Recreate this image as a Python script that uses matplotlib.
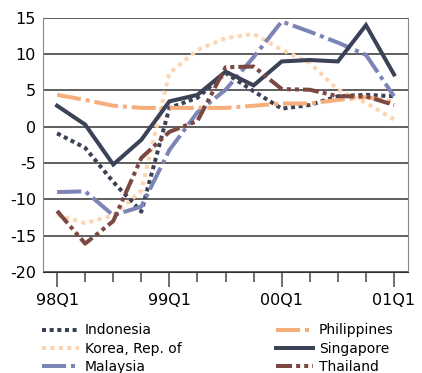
import numpy as np
import matplotlib.pyplot as plt
import matplotlib as mpl

mpl.rc('font', family='DejaVu Sans', size=11.5)
mpl.rc('axes', unicode_minus=False)

quarters = ['98Q1', '98Q2', '98Q3', '98Q4', '99Q1', '99Q2', '99Q3', '99Q4',
            '00Q1', '00Q2', '00Q3', '00Q4', '01Q1']
indonesia   = [-0.9, -2.9, -7.6, -11.7, 2.6, 4.0, 7.4, 4.9, 2.5, 3.0, 4.2, 4.4, 4.2]
korea       = [-12.1, -13.3, -12.2, -8.8, 7.4, 10.6, 12.2, 12.8, 10.6, 8.8, 5.1, 3.3, 1.0]
malaysia    = [-9.0, -8.9, -12.2, -11.0, -3.2, 2.0, 5.1, 9.6, 14.5, 13.1, 11.6, 9.9, 4.2]
philippines = [4.4, 3.7, 2.9, 2.6, 2.6, 2.6, 2.6, 2.9, 3.2, 3.2, 3.7, 4.1, 3.4]
singapore   = [2.9, 0.3, -5.2, -1.8, 3.5, 4.4, 7.6, 5.7, 9.0, 9.2, 9.0, 14.0, 7.2]
thailand    = [-11.6, -16.1, -13.0, -4.3, -0.7, 0.8, 8.2, 8.3, 5.2, 5.1, 4.2, 4.2, 3.0]

x = np.arange(len(quarters))

fig = plt.figure(figsize=(4.22, 3.73), dpi=100)
ax = fig.add_axes([0.102, 0.271, 0.865, 0.681])

lw = 2.9
series = [
    (indonesia,   'Indonesia',         '#3b4256', (0, (1, 0.9))),
    (korea,       'Korea, Rep. of',    '#fdd5b1', (0, (1, 1.1))),
    (malaysia,    'Malaysia',          '#7d84b6', (0, (6, 1.2, 1, 1.2))),
    (philippines, 'Philippines',       '#f6ae7c', (0, (6, 1.2, 1, 1.2))),
    (singapore,   'Singapore',         '#3b4256', '-'),
    (thailand,    'Thailand',          '#7b4842', (0, (4, 1, 1, 1, 1, 1))),
]
handles = []
for vals, name, col, ls in series:
    h, = ax.plot(x, vals, color=col, lw=lw, linestyle=ls, label=name,
                 dash_capstyle='butt', solid_joinstyle='miter')
    handles.append(h)

ax.set_xlim(-0.5, 12.5)
ax.set_ylim(-20, 15)
ax.set_yticks(np.arange(-20, 16, 5))
ax.yaxis.grid(True, color='#333333', lw=1.1)
ax.set_axisbelow(True)
ax.tick_params(axis='y', length=0, pad=5)

ax.set_xticks(x[::4])
ax.set_xticklabels(quarters[::4])
ax.set_xticks(x, minor=True)
ax.tick_params(axis='x', which='major', length=11, width=1.2, color='#555555', pad=4)
ax.tick_params(axis='x', which='minor', length=7, width=1.2, color='#555555')

for s in ['left', 'right']:
    ax.spines[s].set_color('#888888')
ax.spines['bottom'].set_color('#333333')
ax.spines['top'].set_visible(False)

leg_kw = dict(loc='upper left', frameon=False, fontsize=10,
              handlelength=2.65, handletextpad=0.4, labelspacing=0.3,
              borderaxespad=0, borderpad=0)
leg1 = fig.legend(handles=handles[:3], bbox_to_anchor=(0.100, 0.133), **leg_kw)
leg2 = fig.legend(handles=handles[3:], bbox_to_anchor=(0.655, 0.133), **leg_kw)

plt.savefig('out.png', dpi=100)
